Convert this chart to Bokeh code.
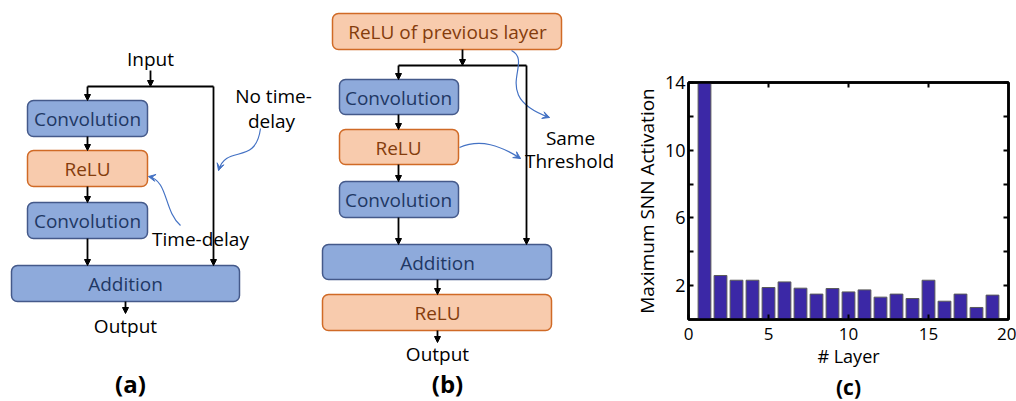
from bokeh.plotting import figure
from bokeh.layouts import row, column
from bokeh.models import (Range1d, BoxAnnotation, Arrow, NormalHead, VeeHead, Spacer,
                          ColumnDataSource, LinearAxis, FixedTicker, Title)
from bokeh.core.properties import value
from bokeh.embed import file_html
from bokeh.resources import INLINE

# ---------------- data for chart (c) ----------------
layers = list(range(1, 20))
max_activation = [14.0, 2.6, 2.32, 2.32, 1.89, 2.22, 1.85, 1.5, 1.83, 1.63,
                  1.75, 1.32, 1.5, 1.24, 2.32, 1.08, 1.5, 0.71, 1.44]
x_ticks = [0, 5, 10, 15, 20]
y_ticks = [2, 6, 10, 14]
y_minor_ticks = [4, 8, 12]
x_label = "# Layer"
y_label = "Maximum SNN Activation"

# ---------------- diagram texts ----------------
labels_a = ["Input", "Convolution", "ReLU", "Convolution", "Addition", "Output",
            "No time-", "delay", "Time-delay"]
labels_b = ["ReLU of previous layer", "Convolution", "ReLU", "Convolution",
            "Addition", "ReLU", "Output", "Same", "Threshold"]
panel_tags = ["(a)", "(b)", "(c)"]

FONT = "Open Sans"
BLUE_FILL, BLUE_LINE, BLUE_TXT = "#8eaadb", "#44598a", "#1f3864"
ORG_FILL, ORG_LINE, ORG_TXT = "#f8cbad", "#d06a26", "#843c0c"
CURVE = "#4472c4"

HB = 400.0          # canvas height of the diagram figure in pixels
def Y(v):
    return HB - v

# ---------------- diagrams (a) and (b) ----------------
fab = figure(width=630, height=400, x_range=Range1d(0, 630), y_range=Range1d(0, 400),
             toolbar_location=None, output_backend="svg", min_border=0,
             x_axis_location=None, y_axis_location=None)
fab.grid.visible = False
fab.outline_line_color = None

# boxes: (left, right, top, bottom, kind)
boxes = [
    (27, 147, 100, 136, "b"), (27, 147, 150, 186, "o"), (27, 147, 202, 238, "b"),
    (11, 239, 265, 301, "b"),
    (332, 561, 13, 49, "o"), (339, 458, 79, 114, "b"), (339, 458, 129, 164, "o"),
    (339, 458, 181, 217, "b"), (322, 551, 244, 279, "b"), (322, 551, 294, 330, "o"),
]
for l, r, t, b, k in boxes:
    fab.add_layout(BoxAnnotation(left=l, right=r, top=Y(t), bottom=Y(b),
                                 fill_color=BLUE_FILL if k == "b" else ORG_FILL, fill_alpha=1,
                                 line_color=BLUE_LINE if k == "b" else ORG_LINE, line_alpha=1,
                                 line_width=1.5, border_radius=6, level="underlay"))

# text positions
pos_a = [(150, 58), (87, 118), (87, 168), (87, 220), (125, 283), (125, 325),
         (273, 95), (271, 120), (200, 238)]
col_a = ["black", BLUE_TXT, ORG_TXT, BLUE_TXT, BLUE_TXT, "black", "black", "black", "black"]
pos_b = [(447, 31), (398, 97), (398, 147), (398, 199), (437, 262), (437, 312),
         (437, 353), (570, 137), (569, 160)]
col_b = [ORG_TXT, BLUE_TXT, ORG_TXT, BLUE_TXT, BLUE_TXT, ORG_TXT, "black", "black", "black"]

src = ColumnDataSource(dict(
    x=[p[0] for p in pos_a + pos_b],
    y=[Y(p[1]) for p in pos_a + pos_b],
    t=labels_a + labels_b,
    c=col_a + col_b))
fab.text(x="x", y="y", text="t", text_color="c", source=src, text_font=value(FONT),
         text_font_size="19px", text_align="center", text_baseline="middle")

tag_src = ColumnDataSource(dict(x=[130, 447], y=[Y(383), Y(383)], t=panel_tags[:2]))
fab.text(x="x", y="y", text="t", source=tag_src, text_font=value(FONT),
         text_font_size="24px", text_font_style="bold", text_align="center",
         text_baseline="middle", text_color="black")

# connector lines
segs = [(87, 86, 213, 86), (398, 65, 526, 65)]
fab.segment(x0=[s[0] for s in segs], y0=[Y(s[1]) for s in segs],
            x1=[s[2] for s in segs], y1=[Y(s[3]) for s in segs],
            line_color="black", line_width=1.8)

arrows = [
    (150, 70, 150, 86), (87, 86, 87, 100), (213, 86, 213, 265), (87, 136, 87, 150),
    (87, 186, 87, 202), (87, 238, 87, 265), (125, 301, 125, 313),
    (462, 49, 462, 65), (398, 65, 398, 79), (526, 65, 526, 244), (398, 114, 398, 129),
    (398, 164, 398, 181), (398, 217, 398, 244), (437, 279, 437, 294), (437, 330, 437, 342),
]
for x0, y0, x1, y1 in arrows:
    fab.add_layout(Arrow(end=NormalHead(size=6, fill_color="black", line_color="black",
                                        line_width=1),
                         x_start=x0, y_start=Y(y0), x_end=x1, y_end=Y(y1),
                         line_color="black", line_width=1.8))

# curved blue pointers: P0, C1, C2, P3
curves = [
    ((260, 128), (255, 166), (226, 143), (218, 170)),
    ((180, 225), (163, 210), (168, 180), (148, 176)),
    ((511, 50), (534, 62), (488, 95), (549, 117)),
    ((459, 147), (480, 138), (500, 145), (520, 158)),
]
fab.bezier(x0=[c[0][0] for c in curves], y0=[Y(c[0][1]) for c in curves],
           x1=[c[3][0] for c in curves], y1=[Y(c[3][1]) for c in curves],
           cx0=[c[1][0] for c in curves], cy0=[Y(c[1][1]) for c in curves],
           cx1=[c[2][0] for c in curves], cy1=[Y(c[2][1]) for c in curves],
           line_color=CURVE, line_width=1.2)
for c in curves:
    (cx, cy), (ex, ey) = c[2], c[3]
    dx, dy = ex - cx, ey - cy
    n = (dx * dx + dy * dy) ** 0.5
    sx, sy = ex - 3 * dx / n, ey - 3 * dy / n
    fab.add_layout(Arrow(end=VeeHead(size=7, fill_color=CURVE, line_color=CURVE, line_width=1),
                         x_start=sx, y_start=Y(sy), x_end=ex, y_end=Y(ey),
                         line_color=CURVE, line_width=1.2))

# ---------------- chart (c) ----------------
pc = figure(width=386, height=400, x_range=Range1d(0, 20), y_range=Range1d(0, 14),
            toolbar_location=None, output_backend="svg",
            min_border_left=58, min_border_right=8, min_border_top=81, min_border_bottom=82)
pc.grid.visible = False
pc.outline_line_color = "black"
pc.outline_line_width = 2.5

pc.vbar(x=layers, top=max_activation, width=0.8, fill_color="#3b28a6",
        line_color="#5a5a5a", line_width=1)

xt = FixedTicker(ticks=x_ticks)
yt = FixedTicker(ticks=y_ticks, minor_ticks=y_minor_ticks)

def style(ax, labels=True):
    ax.axis_line_width = 2.5
    ax.axis_line_color = "black"
    ax.major_tick_in = 5
    ax.major_tick_out = 0
    ax.minor_tick_in = 5
    ax.minor_tick_out = 0
    ax.major_tick_line_width = 2
    ax.minor_tick_line_width = 2
    if labels:
        ax.major_label_text_font = FONT
        ax.major_label_text_font_size = "18px"
        ax.major_label_text_color = "black"
    else:
        ax.major_label_text_font_size = "1px"
        ax.major_label_text_color = None
        ax.major_label_standoff = 0

pc.xaxis.ticker = xt
pc.yaxis.ticker = yt
style(pc.xaxis[0])
style(pc.yaxis[0])
pc.xaxis.major_label_text_font_size = "17px"
pc.xaxis.major_label_standoff = 8
pc.yaxis.major_label_standoff = 3
pc.xaxis.axis_label = x_label
pc.yaxis.axis_label = y_label
for ax in (pc.xaxis[0], pc.yaxis[0]):
    ax.axis_label_text_font = FONT
    ax.axis_label_text_font_style = "normal"
    ax.axis_label_text_color = "black"
pc.xaxis.axis_label_text_font_size = "18px"
pc.yaxis.axis_label_text_font_size = "19px"
pc.xaxis.axis_label_standoff = 1
pc.yaxis.axis_label_standoff = 2

ra = LinearAxis(ticker=yt)
style(ra, labels=False)
pc.add_layout(ra, "right")
ta = LinearAxis(ticker=FixedTicker(ticks=[5, 10, 15]))
style(ta, labels=False)
pc.add_layout(ta, "above")

pc.add_layout(Title(text=panel_tags[2], text_font=FONT, text_font_size="21px",
                    text_font_style="bold", align="center", standoff=0,
                    text_color="black"), "below")

layout = row(fab, column(Spacer(width=10, height=1), pc))
open("out.html", "w").write(file_html(layout, INLINE))
